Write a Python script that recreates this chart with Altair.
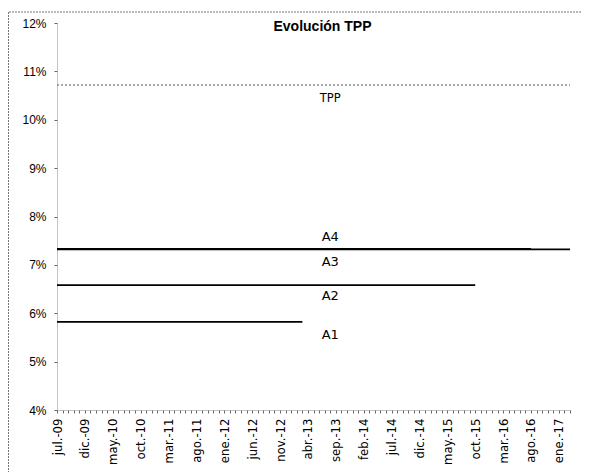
import altair as alt
import pandas as pd

# ---- data ----
series = ["TPP", "A4", "A3", "A2", "A1"]
rates = [10.72, 7.32, 7.33, 6.58, 5.82]          # % level of each class
start_month = [0, 0, 0, 0, 0]                    # months after jul-09
end_month = [92, 92, 85, 75, 44]                 # months after jul-09
tick_labels = ["jul.-09", "dic.-09", "may.-10", "oct.-10", "mar.-11", "ago.-11",
               "ene.-12", "jun.-12", "nov.-12", "abr.-13", "sep.-13", "feb.-14",
               "jul.-14", "dic.-14", "may.-15", "oct.-15", "mar.-16", "ago.-16",
               "ene.-17"]
y_ticks = [4, 5, 6, 7, 8, 9, 10, 11, 12]

df = pd.DataFrame({"serie": series, "tasa": rates,
                   "inicio": start_month, "fin": end_month})

W, H = 513, 387
label_arr = "[" + ",".join("'%s'" % t for t in tick_labels) + "]"
label_expr = "datum.value % 5 == 0 ? " + label_arr + "[datum.value / 5] : ''"

xscale = alt.Scale(domain=[0, 92], nice=False, zero=False)
yscale = alt.Scale(domain=[4, 12], nice=False, zero=False)

xaxis = alt.Axis(values=list(range(0, 93)), labelExpr=label_expr, labelAngle=270,
                 labelOverlap=False, labelFont="Liberation Sans Narrow, DejaVu Sans Condensed, sans-serif",
                 labelFontSize=13, labelColor="black", labelPadding=5, tickSize=3,
                 tickColor="#666", domainColor="#888", domainDash=[1, 1], grid=False,
                 title=None, labelAlign="right", labelBaseline="middle", labelBound=False,
                 labelFlush=False)
yaxis = alt.Axis(values=y_ticks, labelExpr="datum.value + '%'", labelFont="Liberation Sans",
                 labelFontSize=12, labelColor="black", labelPadding=8, tickSize=3,
                 tickColor="#666", domainColor="#888", domainDash=[1, 1], grid=False,
                 title=None)

X = alt.X("inicio:Q", scale=xscale, axis=xaxis)
Y = alt.Y("tasa:Q", scale=yscale, axis=yaxis)

base = alt.Chart(df)

tpp = base.transform_filter(alt.datum.serie == "TPP").mark_rule(
    color="#8a8a8a", strokeWidth=1.5, strokeDash=[2, 2]).encode(
    x=X, x2="fin:Q", y=Y)

classes = base.transform_filter(alt.datum.serie != "TPP").mark_rule(
    color="black", strokeWidth=1.8).encode(
    x=X, x2="fin:Q", y=Y)

offsets = {"TPP": 14, "A4": -12, "A3": 13, "A2": 11, "A1": 13}
texts = []
for s in series:
    texts.append(base.transform_filter(alt.datum.serie == s).mark_text(
        font="DejaVu Sans", fontSize=13 if s != "TPP" else 11.5, color="black",
        dy=offsets[s], align="center", baseline="middle").encode(
        x=alt.datum(49, scale=xscale, axis=xaxis),
        y=Y,
        text="serie:N"))

one = pd.DataFrame({"a": [0]})
frame_top = alt.Chart(one).mark_rule(color="#777", strokeWidth=1, strokeDash=[2, 1]).encode(
    x=alt.value(-48), x2=alt.value(530), y=alt.value(-11))
frame_left = alt.Chart(one).mark_rule(color="#777", strokeWidth=1, strokeDash=[2, 1]).encode(
    x=alt.value(-48.5), y=alt.value(-11), y2=alt.value(460))

chart = alt.layer(tpp, classes, *texts, frame_top, frame_left).properties(
    width=W, height=H,
    title=alt.TitleParams("Evolución TPP", font="Liberation Sans", fontSize=14,
                          fontWeight="bold", color="black", offset=-22, dx=9,
                          anchor="middle"),
    autosize=alt.AutoSizeParams(type="none"),
    padding={"left": 49, "top": 15, "right": 11, "bottom": 62},
).configure_view(strokeWidth=0)

chart.save("out.html", embed_options={"renderer": "svg", "actions": False})
